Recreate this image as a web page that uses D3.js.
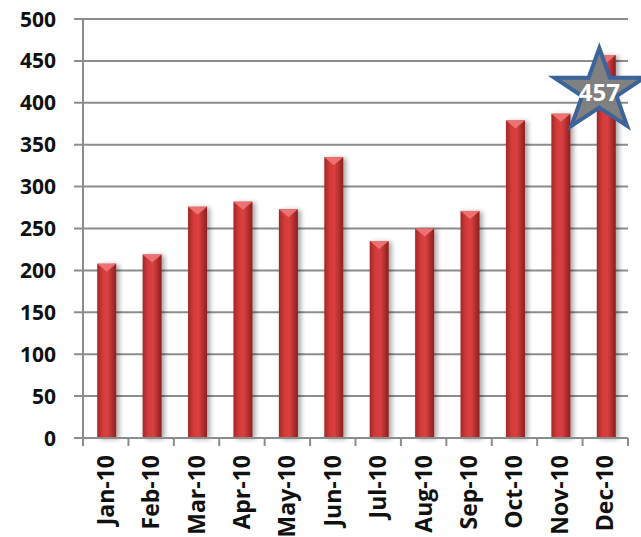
<!DOCTYPE html>
<html>
<head>
<meta charset="utf-8">
<script src="https://cdn.jsdelivr.net/npm/d3@7"></script>
<style>
  body { margin: 0; background: #fff; }
  text { font-family: "Open Sans", Lato, sans-serif; font-weight: bold; }
</style>
</head>
<body>
<script>
// chart data
var months = ["Jan-10", "Feb-10", "Mar-10", "Apr-10", "May-10", "Jun-10",
              "Jul-10", "Aug-10", "Sep-10", "Oct-10", "Nov-10", "Dec-10"];
var values = [208, 219, 276, 282, 273, 335, 235, 250, 271, 379, 387, 457];
var yTicks = [0, 50, 100, 150, 200, 250, 300, 350, 400, 450, 500];
var starLabel = "457";

function drawChart() {
    var width = 641, height = 537;
    var mLeft = 83, mRight = 628, mTop = 19, mBottom = 438;

    var svg = d3.select("body").append("svg")
        .attr("width", width)
        .attr("height", height);

    var defs = svg.append("defs");
    var grad = defs.append("linearGradient").attr("id", "barGrad")
        .attr("x1", "0%").attr("x2", "100%").attr("y1", "0%").attr("y2", "0%");
    grad.append("stop").attr("offset", "0%").attr("stop-color", "#a02828");
    grad.append("stop").attr("offset", "30%").attr("stop-color", "#d63a3a");
    grad.append("stop").attr("offset", "55%").attr("stop-color", "#d94040");
    grad.append("stop").attr("offset", "100%").attr("stop-color", "#8c1f1f");

    var shadow = defs.append("filter").attr("id", "shadow")
        .attr("x", "-50%").attr("y", "-10%").attr("width", "200%").attr("height", "120%");
    shadow.append("feGaussianBlur").attr("in", "SourceAlpha").attr("stdDeviation", 2.5);
    shadow.append("feOffset").attr("dx", 3).attr("dy", 1).attr("result", "off");
    shadow.append("feComponentTransfer").append("feFuncA").attr("type", "linear").attr("slope", 0.35);
    var merge = shadow.append("feMerge");
    merge.append("feMergeNode");
    merge.append("feMergeNode").attr("in", "SourceGraphic");

    var x = d3.scaleBand().domain(months).range([mLeft, mRight]).padding(0);
    var y = d3.scaleLinear().domain([0, 500]).range([mBottom, mTop]);

    // gridlines
    svg.append("g").selectAll("line")
        .data(yTicks.filter(function (d) { return d > 0; }))
        .enter().append("line")
        .attr("x1", mLeft - 9).attr("x2", mRight)
        .attr("y1", function (d) { return y(d); })
        .attr("y2", function (d) { return y(d); })
        .attr("stroke", "#8c8c8c").attr("stroke-width", 2);

    // y labels
    svg.append("g").selectAll("text")
        .data(yTicks)
        .enter().append("text")
        .attr("x", 56)
        .attr("y", function (d) { return y(d); })
        .attr("dy", "0.36em")
        .attr("text-anchor", "end")
        .attr("font-size", 21)
        .attr("fill", "#111")
        .text(function (d) { return d; });

    // bars
    var bw = 19;
    function barX(i) { return x(months[i]) + x.bandwidth() / 2 - bw / 2 + 1; }

    var bars = svg.append("g").selectAll("g")
        .data(values)
        .enter().append("g")
        .attr("filter", "url(#shadow)");

    bars.append("rect")
        .attr("x", function (d, i) { return barX(i); })
        .attr("y", function (d) { return y(d); })
        .attr("width", bw)
        .attr("height", function (d) { return mBottom - y(d); })
        .attr("fill", "url(#barGrad)");

    bars.append("path")
        .attr("d", function (d, i) {
            var x0 = barX(i), yt = y(d);
            return "M" + x0 + "," + yt + "L" + (x0 + bw) + "," + yt + "L" + (x0 + bw / 2) + "," + (yt + 8) + "Z";
        })
        .attr("fill", "#ec7272");

    // axes
    svg.append("line")
        .attr("x1", mLeft).attr("x2", mLeft).attr("y1", mTop).attr("y2", mBottom)
        .attr("stroke", "#8c8c8c").attr("stroke-width", 2);
    svg.append("line")
        .attr("x1", mLeft - 9).attr("x2", mRight).attr("y1", mBottom).attr("y2", mBottom)
        .attr("stroke", "#8c8c8c").attr("stroke-width", 2);

    var bounds = months.map(function (m) { return x(m); }).concat([mRight]);
    svg.append("g").selectAll("line")
        .data(bounds)
        .enter().append("line")
        .attr("x1", function (d) { return d; }).attr("x2", function (d) { return d; })
        .attr("y1", mBottom).attr("y2", mBottom + 8)
        .attr("stroke", "#8c8c8c").attr("stroke-width", 2);

    // x labels
    svg.append("g").selectAll("text")
        .data(months)
        .enter().append("text")
        .attr("transform", function (d) {
            return "translate(" + (x(d) + x.bandwidth() / 2 + 8) + "," + (mBottom + 17) + ") rotate(-90)";
        })
        .attr("text-anchor", "end")
        .attr("font-size", 23)
        .attr("fill", "#111")
        .text(function (d) { return d; });

    // star callout on last bar
    var last = months.length - 1;
    var cx = x(months[last]) + x.bandwidth() / 2 - 6, cy = y(values[last]) + 36;
    var R = 43, r = 16.5, sx = 1.1;
    var pts = d3.range(10).map(function (i) {
        var a = -Math.PI / 2 + i * Math.PI / 5;
        var rad = i % 2 === 0 ? R : r;
        return [cx + sx * rad * Math.cos(a), cy + rad * Math.sin(a)];
    });
    svg.append("path")
        .attr("d", d3.line()(pts) + "Z")
        .attr("fill", "#808080")
        .attr("stroke", "#3d639b")
        .attr("stroke-width", 4)
        .attr("stroke-linejoin", "miter");
    svg.append("text")
        .attr("x", cx).attr("y", cy + 1)
        .attr("dy", "0.36em")
        .attr("text-anchor", "middle")
        .attr("font-size", 24)
        .attr("fill", "#fff")
        .text(starLabel);
}

drawChart();
</script>
</body>
</html>
